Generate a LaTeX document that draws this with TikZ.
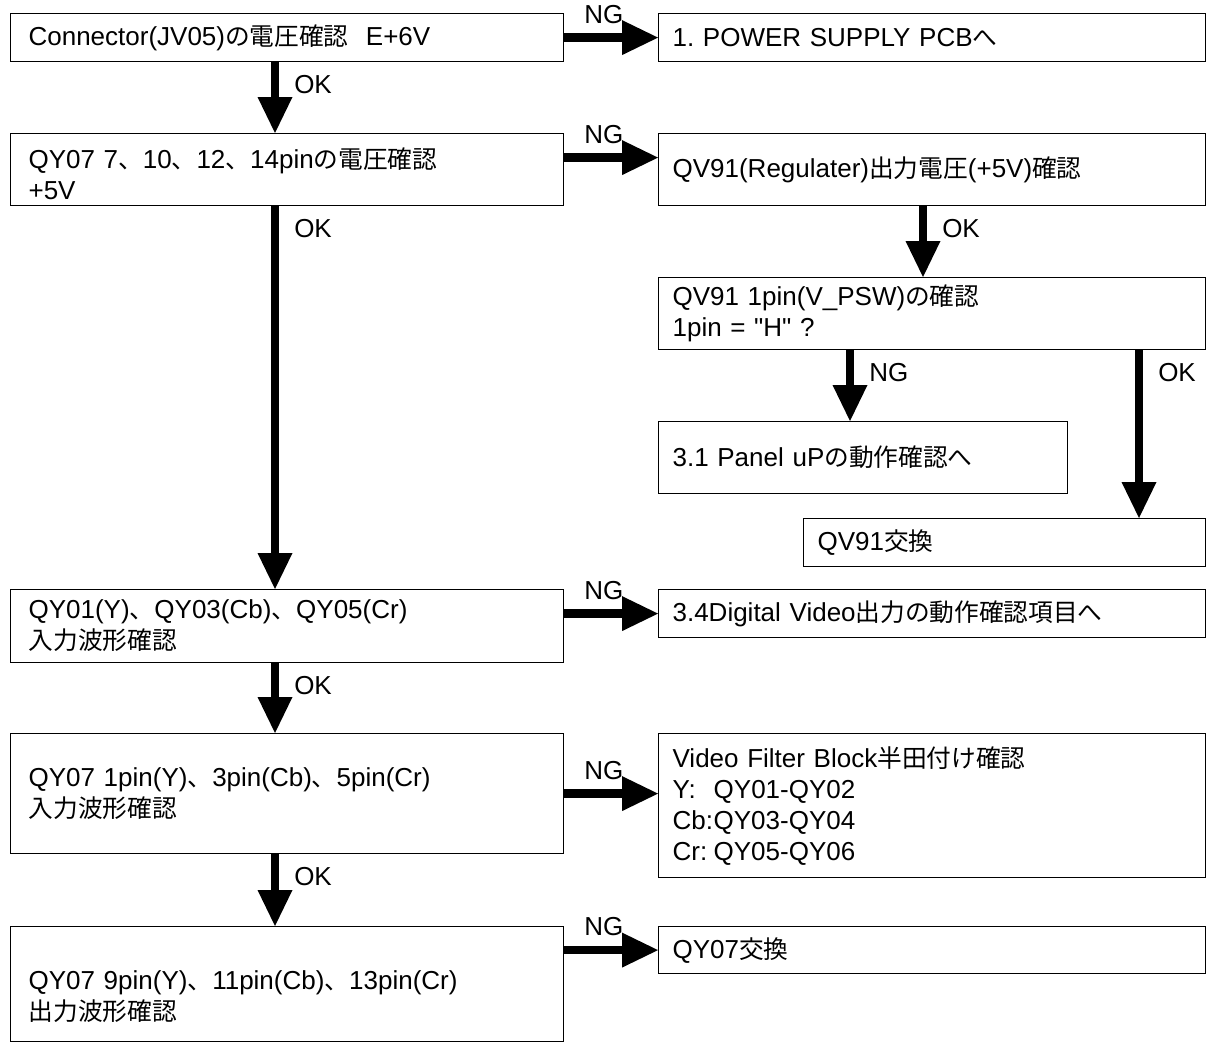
\documentclass[tikz,border=0pt]{standalone}
\usepackage{fontspec}
\setmainfont{Liberation Sans}
\newfontfamily\jafont[Scale=0.95]{Noto Sans CJK JP}
\newfontfamily\plainfont{Liberation Sans}
\newcommand{\ja}[1]{{\jafont #1}}
\newcommand{\dq}{{\plainfont"}}
\frenchspacing
\usetikzlibrary{arrows.meta}
\tikzset{
  stepnode/.style={
    draw,
    line width=1.2pt,
    anchor=north west,
    align=left,
    inner ysep=0pt,
    font=\fontsize{26}{31}\selectfont
  },
  lbox/.style={
    stepnode,
    inner xsep=18pt,
    text width=517pt
  },
  rbox/.style={
    stepnode,
    inner xsep=14pt
  },
  flow/.style={
    line width=8.5pt,
    -{Triangle[length=36pt, width=35pt, line width=0pt]}
  },
  hlbl/.style={
    font=\fontsize{26}{31}\selectfont,
    inner sep=0pt,
    pos=0,
    anchor=south west,
    xshift=16pt,
    yshift=10pt
  },
  vlbl/.style={
    font=\fontsize{26}{31}\selectfont,
    inner sep=0pt,
    pos=0,
    anchor=north west,
    xshift=15pt,
    yshift=-9pt
  }
}

\begin{document}
\begin{tikzpicture}[x=1pt, y=-1pt]
  \useasboundingbox (0,0) rectangle (1211,1045);

  % left column
  \node[lbox, minimum height=48pt] (conn) at (10,13) {Connector(JV05)\ja{の電圧確認}~~E+6V};
  \node[lbox, minimum height=72pt] (pins) at (10,133) {\rule{0pt}{30pt}QY07 7\ja{、}10\ja{、}12\ja{、}14pin\ja{の電圧確認}\\+5V};
  \node[lbox, minimum height=73pt] (qy01) at (10,589) {QY01(Y)\ja{、}QY03(Cb)\ja{、}QY05(Cr)\\\ja{入力波形確認}};
  \node[lbox, minimum height=120pt] (inp) at (10,733) {QY07 1pin(Y)\ja{、}3pin(Cb)\ja{、}5pin(Cr)\\\ja{入力波形確認}};
  \node[lbox, minimum height=115pt] (outw) at (10,926) {\rule{0pt}{44pt}QY07 9pin(Y)\ja{、}11pin(Cb)\ja{、}13pin(Cr)\\\ja{出力波形確認}};

  % right column
  \node[rbox, text width=519pt, minimum height=48pt] (ps) at (658,13) {1. POWER SUPPLY PCB\ja{へ}};
  \node[rbox, text width=519pt, minimum height=72pt] (reg) at (658,133) {QV91(Regulater)\ja{出力電圧}(+5V)\ja{確認}};
  \node[rbox, text width=519pt, minimum height=72pt] (pin1) at (658,277) {QV91 1pin(V\_PSW)\ja{の確認}\\1pin = \dq H\dq{} ?};
  \node[rbox, text width=381pt, minimum height=72pt] (pan) at (658,421) {3.1 Panel uP\ja{の動作確認へ}};
  \node[rbox, text width=374pt, minimum height=48pt] (swap) at (803,518) {QV91\ja{交換}};
  \node[rbox, text width=519pt, minimum height=48pt] (dig) at (658,589) {3.4Digital Video\ja{出力の動作確認項目へ}};
  \node[rbox, text width=519pt, minimum height=144pt] (vf) at (658,733) {Video Filter Block\ja{半田付け確認}\\
    \makebox[1.58em][l]{Y:}QY01-QY02\\
    \makebox[1.58em][l]{Cb:}QY03-QY04\\
    \makebox[1.58em][l]{Cr:}QY05-QY06};
  \node[rbox, text width=519pt, minimum height=47pt] (ex) at (658,926) {QY07\ja{交換}};

  % arrow columns
  \coordinate (colL) at (275,0);
  \coordinate (colR) at (923,0);
  \coordinate (colNG) at (850,0);
  \coordinate (colOK) at (1139,0);

  \path
  (conn.east) edge[flow] node[hlbl] {NG} (ps.west)
  (colL |- conn.south) edge[flow] node[vlbl] {OK} (colL |- pins.north)
  ([yshift=12pt]pins.east) edge[flow] node[hlbl] {NG} ([yshift=12pt]reg.west)
  (colL |- pins.south) edge[flow] node[vlbl] {OK} (colL |- qy01.north)
  (colR |- reg.south) edge[flow] node[vlbl] {OK} (colR |- pin1.north)
  (colNG |- pin1.south) edge[flow] node[vlbl] {NG} (colNG |- pan.north)
  (colOK |- pin1.south) edge[flow] node[vlbl] {OK} (colOK |- swap.north)
  (qy01.east |- dig.west) edge[flow] node[hlbl] {NG} (dig.west)
  (colL |- qy01.south) edge[flow] node[vlbl] {OK} (colL |- inp.north)
  (inp.east) edge[flow] node[hlbl] {NG} (inp.east -| vf.west)
  (colL |- inp.south) edge[flow] node[vlbl] {OK} (colL |- outw.north)
  (outw.east |- ex.west) edge[flow] node[hlbl] {NG} (ex.west);
\end{tikzpicture}
\end{document}
